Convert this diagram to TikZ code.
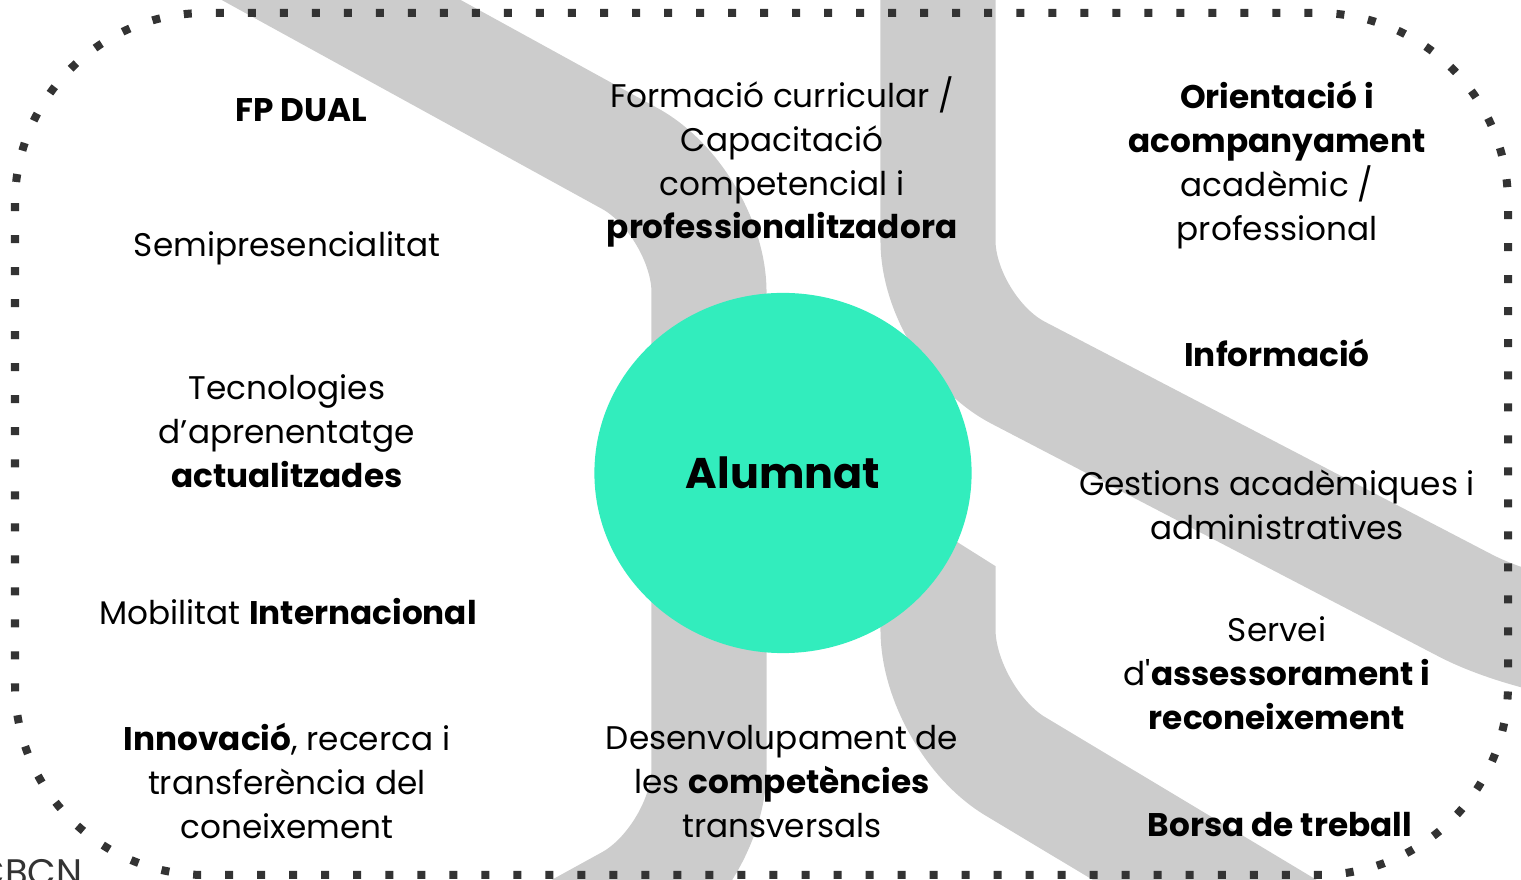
\documentclass[tikz,border=0pt]{standalone}
\usepackage{fontspec}
\setmainfont{Poppins}
\usetikzlibrary{shapes.geometric}
\definecolor{bandgray}{HTML}{CCCCCC}
\definecolor{mint}{HTML}{32EDBD}
\definecolor{dotgray}{HTML}{333333}
\tikzset{
  band/.style={draw=bandgray, line width=1.15cm, rounded corners=0.9cm},
  dotborder/.style={draw=dotgray, line width=0.08cm, dash pattern=on 0.08cm off 0.24cm, rounded corners=1.9cm},
  lbl/.style={align=center, inner sep=0pt, font=\fontsize{9.3}{12.5}\selectfont},
  hub/.style={ellipse, fill=mint, minimum width=3.77cm, minimum height=3.6cm, inner sep=0pt,
    font=\fontsize{12.2}{14}\selectfont\bfseries},
}
\begin{document}
\begin{tikzpicture}[x=0.01cm, y=-0.01cm, line join=round]
  \useasboundingbox (0,0) rectangle (1521,880);
  \clip (0,0) rectangle (1521,880);
  % grey bands behind everything
  \draw[band] (150,-105) -- (709,202) -- (709,859) -- (400,1029);
  \draw[band] (938,-60) -- (938,331) -- (1545,647) -- (1700,647);
  \begin{scope}
    \clip (700,380) -- (1600,947) -- (1600,1100) -- (700,1100) -- cycle;
    \draw[band] (938,420) -- (938,720) -- (1300,937);
  \end{scope}
  \draw[dotborder] (15,13) rectangle (1508,875);
  \node[hub] (alumnat) at (783,473) {Alumnat};
  % left column
  \node[lbl] (fpdual) at (301,110) {\textbf{FP DUAL}};
  \node[lbl] (semi) at (287,248) {Semipresencialitat};
  \node[lbl] (tecno) at (287,431) {Tecnologies\\d’aprenentatge\\\textbf{actualitzades}};
  \node[lbl] (mobil) at (288,612) {Mobilitat \textbf{Internacional}};
  \node[lbl] (innov) at (287,781) {\textbf{Innovació}, recerca i\\transferència del\\coneixement};
  % middle column
  \node[lbl] (formacio) at (782,162) {Formació curricular /\\Capacitació\\competencial i\\\textbf{professionalitzadora}};
  \node[lbl] (desenv) at (782,782) {Desenvolupament de\\les \textbf{competències}\\transversals};
  % right column
  \node[lbl] (orient) at (1277,165) {\textbf{Orientació i}\\\textbf{acompanyament}\\acadèmic /\\professional};
  \node[lbl] (info) at (1277,353) {\textbf{Informació}};
  \node[lbl] (gestions) at (1277,505) {Gestions acadèmiques i\\administratives};
  \node[lbl] (servei) at (1277,673) {Servei\\d\textquotesingle\textbf{assessorament i}\\\textbf{reconeixement}};
  \node[lbl] (borsa) at (1280,825) {\textbf{Borsa de treball}};
  \node[anchor=base west, inner sep=0pt, text=dotgray, font=\fontsize{10.5}{12}\selectfont] (cbcn) at (-24,886) {CBCN};
\end{tikzpicture}
\end{document}
